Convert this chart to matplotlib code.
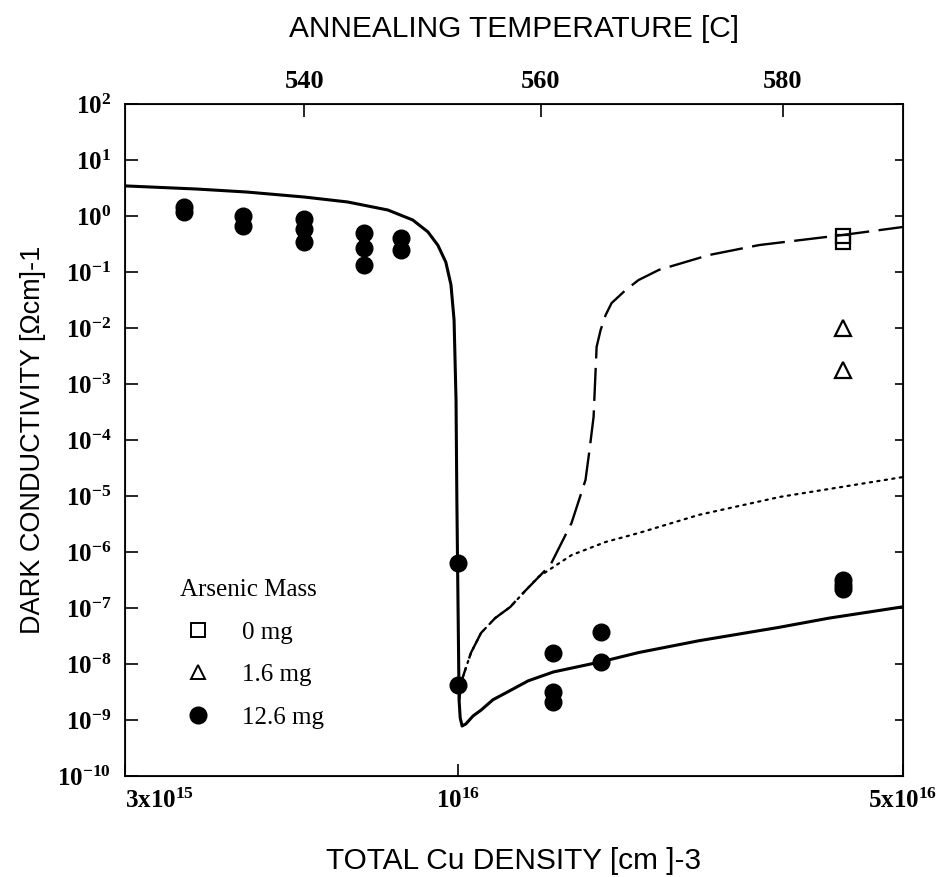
import numpy as np
import matplotlib.pyplot as plt
from matplotlib.lines import Line2D

plt.rcParams['mathtext.fontset'] = 'custom'
plt.rcParams['mathtext.rm'] = 'Liberation Serif'
plt.rcParams['mathtext.bf'] = 'Liberation Serif:bold'

# measured dark conductivity [1/(Ohm cm)] vs total Cu density [cm^-3]
cu_126 = [3.71e15, 3.71e15, 4.6e15, 4.6e15, 5.74e15, 5.74e15, 5.74e15,
          7.13e15, 7.13e15, 7.13e15, 8.13e15, 8.13e15, 1.0e16, 1.0e16,
          1.41e16, 1.41e16, 1.41e16, 1.675e16, 1.675e16,
          4.03e16, 4.03e16, 4.03e16]
sigma_126 = [1.45, 1.2, 1.02, 0.65, 0.87, 0.59, 0.35,
             0.49, 0.27, 0.136, 0.40, 0.25, 6.4e-7, 4.2e-9,
             1.58e-8, 3.2e-9, 2.1e-9, 3.7e-8, 1.09e-8,
             3.2e-7, 2.6e-7, 2.2e-7]
cu_16 = [4.03e16, 4.03e16]
sigma_16 = [1.0e-2, 1.78e-3]
cu_0 = [4.03e16, 4.03e16]
sigma_0 = [0.44, 0.34]

# model curves
model_126_x = [3.0e15, 3.89e15, 4.66e15, 5.74e15, 6.71e15, 7.76e15, 8.49e15,
               8.97e15, 9.30e15, 9.57e15, 9.75e15, 9.86e15, 9.93e15, 9.96e15,
               1.0e16, 1.004e16, 1.008e16, 1.015e16, 1.029e16, 1.056e16,
               1.087e16, 1.135e16, 1.186e16, 1.289e16, 1.412e16, 1.675e16,
               1.922e16, 2.39e16, 3.19e16, 3.83e16, 5.0e16]
model_126_y = [3.45, 3.03, 2.68, 2.18, 1.78, 1.28, 0.85,
               0.52, 0.30, 0.15, 0.059, 0.0139, 5.2e-4, 8.5e-6,
               1.4e-7, 2.3e-9, 1.1e-9, 7.8e-10, 8.5e-10, 1.18e-9,
               1.5e-9, 2.3e-9, 3.0e-9, 5e-9, 7.2e-9, 1.09e-8,
               1.6e-8, 2.6e-8, 4.5e-8, 6.6e-8, 1.05e-7]
model_0_x = [1.004e16, 1.018e16, 1.048e16, 1.087e16, 1.144e16, 1.208e16,
             1.257e16, 1.397e16, 1.508e16, 1.586e16, 1.609e16, 1.633e16,
             1.651e16, 1.675e16, 1.706e16, 1.743e16, 1.834e16, 1.922e16,
             2.068e16, 2.479e16, 2.973e16, 4.02e16, 5.0e16]
model_0_y = [2.3e-9, 5.9e-9, 1.58e-8, 3.58e-8, 6.6e-8, 1.04e-7,
             1.71e-7, 5.86e-7, 3.3e-6, 1.93e-5, 6.6e-5, 2.58e-4,
             4.6e-3, 9.2e-3, 0.0171, 0.0279, 0.0477, 0.072,
             0.109, 0.201, 0.303, 0.458, 0.637]
model_16_x = [1.004e16, 1.018e16, 1.048e16, 1.087e16, 1.144e16, 1.208e16,
              1.337e16, 1.508e16, 1.706e16, 1.922e16, 2.39e16, 3.2e16, 5.0e16]
model_16_y = [2.3e-9, 5.9e-9, 1.58e-8, 3.58e-8, 6.6e-8, 1.04e-7,
              3.58e-7, 8.8e-7, 1.51e-6, 2.18e-6, 4.6e-6, 9.6e-6, 2.18e-5]

# bottom / top axis ticks
x_ticks = [3e15, 1e16, 5e16]
x_ticklabels = [r'$\mathbf{3x10^{15}}$', r'$\mathbf{10^{16}}$', r'$\mathbf{5x10^{16}}$']
temp_ticks_cu = [5.74e15, 1.35e16, 3.24e16]
temp_labels = ['540', '560', '580']
y_exponents = list(range(-10, 3))

fig = plt.figure(figsize=(9.43, 8.77), dpi=100)
ax = fig.add_axes([0.1326, 0.1152, 0.8250, 0.7662])

ax.plot(model_126_x, model_126_y, color='black', lw=2.2)
ax.plot(model_0_x, model_0_y, color='black', lw=1.7, linestyle=(0, (14, 4)))
ax.plot(model_16_x, model_16_y, color='black', lw=1.6, linestyle=(0, (1, 2.4)),
        dash_capstyle='round')

ax.plot(cu_126, sigma_126, 'o', color='black', ms=12, ls='none')
ax.plot(cu_16, sigma_16, '^', mfc='white', mec='black', mew=1.6, ms=11, ls='none')
ax.plot(cu_0, sigma_0, 's', mfc='none', mec='black', mew=1.6, ms=10, ls='none')

ax.set_xscale('log')
ax.set_yscale('log')
ax.set_xlim(3e15, 5e16)
ax.set_ylim(1e-10, 1e2)

ax.set_xticks(x_ticks)
ax.set_xticklabels(x_ticklabels)
ax.xaxis.set_minor_locator(plt.NullLocator())
ax.set_yticks([10.0 ** e for e in y_exponents])
ax.set_yticklabels([r'$\mathbf{10^{%d}}$' % e for e in y_exponents])
ax.yaxis.set_minor_locator(plt.NullLocator())
ax.tick_params(axis='both', direction='in', length=9, width=1.2, labelsize=18)
ax.tick_params(axis='x', pad=9)
ax.tick_params(axis='y', pad=10, right=True)
ax.get_xticklabels()[0].set_horizontalalignment('left')
for t in ax.yaxis.get_major_ticks():
    t.tick2line.set_markersize(6)
for s in ax.spines.values():
    s.set_linewidth(1.3)

top = ax.twiny()
top.set_xscale('log')
top.set_xlim(ax.get_xlim())
top.set_xticks(temp_ticks_cu)
top.set_xticklabels(temp_labels, fontfamily='Liberation Serif', fontweight='bold')
top.xaxis.set_minor_locator(plt.NullLocator())
top.tick_params(axis='x', direction='in', length=9, width=1.2, labelsize=19, pad=8)

ax.set_xlabel('TOTAL Cu DENSITY [cm ]-3', fontfamily='Liberation Sans', fontsize=21.5)
ax.xaxis.set_label_coords(0.5, -0.105)
ax.set_ylabel('DARK CONDUCTIVITY [Ωcm]-1', fontfamily='Liberation Sans', fontsize=19.5)
ax.yaxis.set_label_coords(-0.102, 0.5)
top.set_xlabel('ANNEALING TEMPERATURE [C]', fontfamily='Liberation Sans', fontsize=21.5)
top.xaxis.set_label_coords(0.5, 1.1)

handles = [Line2D([], [], marker='s', mfc='none', mec='black', mew=1.4, ms=10, ls='none'),
           Line2D([], [], marker='^', mfc='white', mec='black', mew=1.4, ms=10, ls='none'),
           Line2D([], [], marker='o', color='black', ms=12, ls='none')]
leg = ax.legend(handles, ['0 mg', '1.6 mg', '12.6 mg'], title='Arsenic Mass',
                loc='upper left', bbox_to_anchor=(0.070, 0.293), frameon=False,
                prop={'family': 'Liberation Serif', 'size': 18},
                title_fontproperties={'family': 'Liberation Serif', 'size': 18},
                alignment='left', labelspacing=0.8, handlelength=1.5,
                handletextpad=1.0, borderaxespad=0, borderpad=0)

fig.savefig('out.png', dpi=100)
